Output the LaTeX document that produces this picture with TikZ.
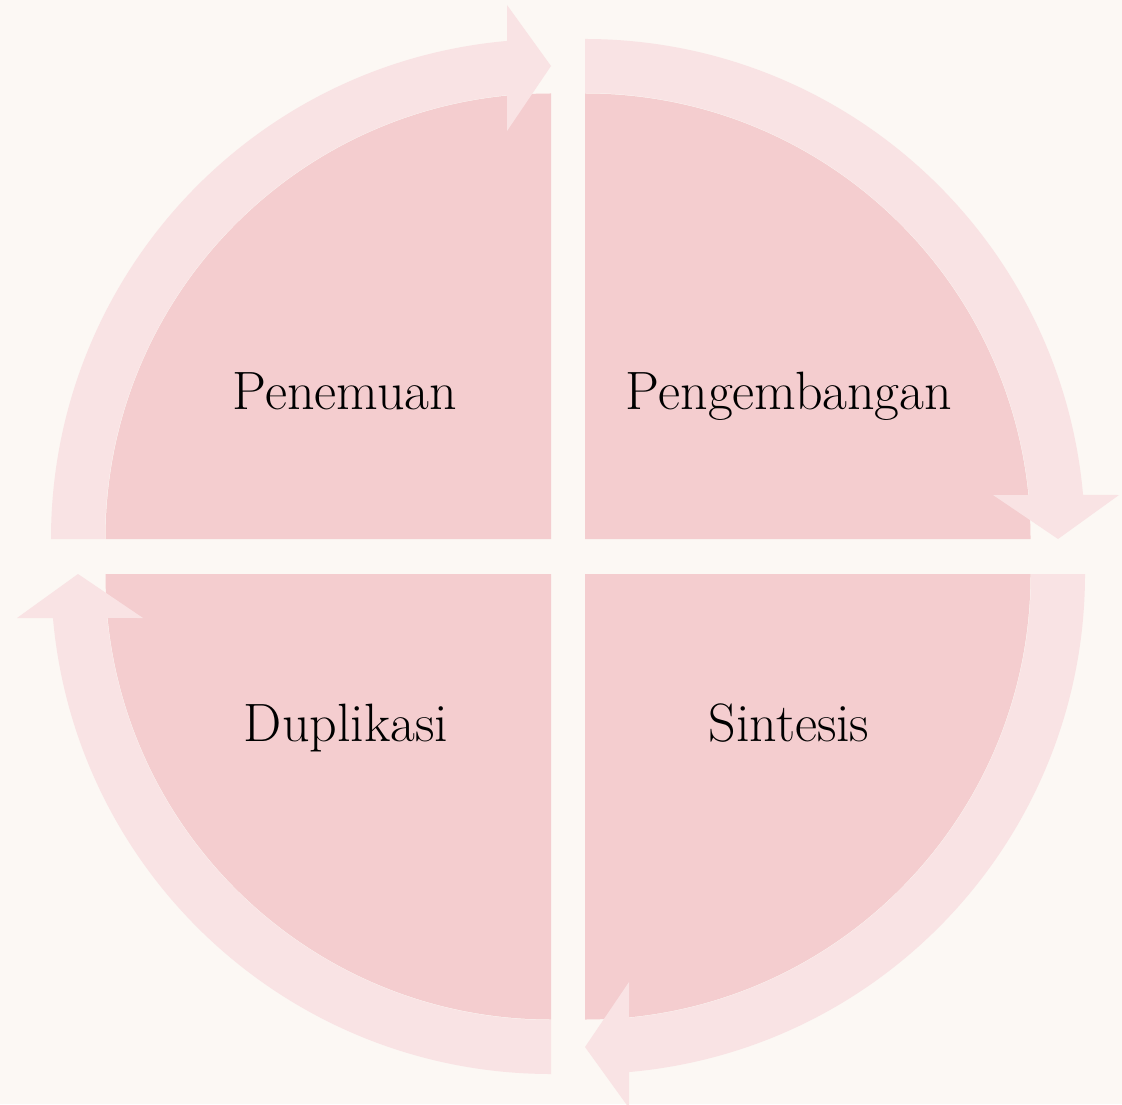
\documentclass[tikz,border=0pt]{standalone}
\usepackage{xcolor}
\usepackage{tikz}

\definecolor{bgcream}{HTML}{FCF8F4}
\definecolor{quadpink}{HTML}{F4CDCF}
\definecolor{arcpink}{HTML}{F9E3E4}

\begin{document}
\begin{tikzpicture}[x=0.5pt, y=0.5pt,
  quad/.style={fill=quadpink},
  arcband/.style={fill=arcpink},
  lbl/.style={font=\fontsize{27}{32}\selectfont, text=black, anchor=base, inner sep=0pt}]
\fill[bgcream] (0,0) rectangle (1122,1104);
\useasboundingbox (0,0) rectangle (1122,1104);

% quarter disks
\coordinate (ctl) at (551,565);
\coordinate (ctr) at (585,565);
\coordinate (cbr) at (585,530);
\coordinate (cbl) at (551,530);
\fill[quad] (ctl) -- ++(180:445.5) arc[start angle=180, end angle=90, radius=445.5] -- cycle;
\fill[quad] (ctr) -- ++(90:445.5) arc[start angle=90, end angle=0, radius=445.5] -- cycle;
\fill[quad] (cbr) -- ++(0:445.5) arc[start angle=0, end angle=-90, radius=445.5] -- cycle;
\fill[quad] (cbl) -- ++(-90:445.5) arc[start angle=-90, end angle=-180, radius=445.5] -- cycle;

% curved arrows (same shape, turned for each quarter)
\begin{scope}[shift={(ctl)}, rotate=0]
\fill[arcband] (180:500) arc[start angle=180, end angle=95.05, radius=500] -- (-44,534) -- (0,473) -- (-44,408) -- (95.66:446) arc[start angle=95.66, end angle=180, radius=446] -- cycle;
\end{scope}
\begin{scope}[shift={(ctr)}, rotate=-90]
\fill[arcband] (180:500) arc[start angle=180, end angle=95.05, radius=500] -- (-44,534) -- (0,473) -- (-44,408) -- (95.66:446) arc[start angle=95.66, end angle=180, radius=446] -- cycle;
\end{scope}
\begin{scope}[shift={(cbr)}, rotate=-180]
\fill[arcband] (180:500) arc[start angle=180, end angle=95.05, radius=500] -- (-44,534) -- (0,473) -- (-44,408) -- (95.66:446) arc[start angle=95.66, end angle=180, radius=446] -- cycle;
\end{scope}
\begin{scope}[shift={(cbl)}, rotate=-270]
\fill[arcband] (180:500) arc[start angle=180, end angle=95.05, radius=500] -- (-44,534) -- (0,473) -- (-44,408) -- (95.66:446) arc[start angle=95.66, end angle=180, radius=446] -- cycle;
\end{scope}

% labels
\node[lbl] (pen) at (345,694) {Penemuan};
\node[lbl] (peng) at (789,694) {Pengembangan};
\node[lbl] (sin) at (789,363) {Sintesis};
\node[lbl] (dup) at (346,363) {Duplikasi};
\end{tikzpicture}
\end{document}
